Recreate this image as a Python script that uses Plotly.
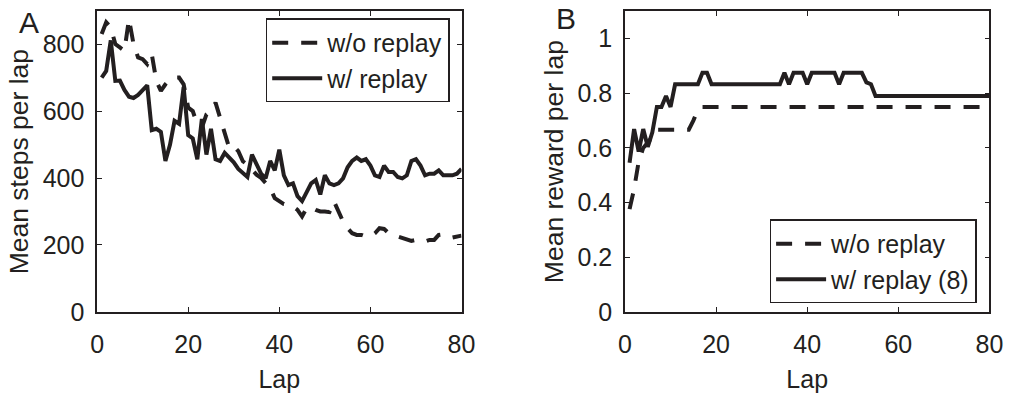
import plotly.graph_objects as go

laps = list(range(1, 81))

steps_wo = [830, 865, 850, 800, 790, 780, 875, 800, 760, 755,
            740, 770, 690, 660, 680, 695, 700, 700, 680, 610,
            600, 560, 550, 590, 600, 625, 580, 530, 490, 495,
            480, 450, 440, 425, 410, 400, 385, 370, 340, 330,
            322, 320, 315, 305, 285, 310, 312, 305, 300, 300,
            298, 330, 300, 270, 250, 235, 230, 230, 225, 225,
            235, 250, 248, 235, 230, 225, 220, 215, 212, 215,
            210, 210, 215, 215, 230, 232, 225, 222, 225, 228]

steps_w = [700, 720, 811, 690, 691, 663, 643, 639, 648, 663,
           677, 543, 547, 538, 451, 499, 571, 562, 672, 528,
           518, 456, 576, 470, 547, 456, 451, 475, 461, 447,
           427, 413, 403, 470, 442, 413, 399, 451, 423, 485,
           408, 379, 384, 346, 331, 355, 384, 394, 351, 408,
           384, 379, 384, 399, 432, 451, 461, 451, 456, 437,
           408, 403, 437, 418, 418, 403, 399, 408, 451, 456,
           437, 408, 413, 413, 423, 408, 408, 408, 413, 427]

reward_wo = [0.376, 0.45, 0.55, 0.60, 0.62, 0.64, 0.667, 0.667, 0.667, 0.667,
             0.667, 0.667, 0.667, 0.667, 0.70, 0.74] + [0.75] * 64

reward_w = ([0.546, 0.669, 0.587, 0.669, 0.604, 0.657, 0.75, 0.75, 0.79, 0.75]
            + [0.833] * 6 + [0.875, 0.875] + [0.833] * 16
            + [0.875, 0.833, 0.875, 0.875, 0.875, 0.833]
            + [0.875] * 6 + [0.833] + [0.875] * 5
            + [0.84, 0.833, 0.79] + [0.79] * 25)

INK = "#231f20"
FONT = "Liberation Sans, Arial, Helvetica, sans-serif"
DASH = "16px,13px"
LW = 4

fig = go.Figure()
fig.add_trace(go.Scatter(x=laps, y=steps_wo, mode="lines", name="w/o replay",
                         line=dict(color=INK, width=LW, dash=DASH),
                         xaxis="x", yaxis="y", legend="legend"))
fig.add_trace(go.Scatter(x=laps, y=steps_w, mode="lines", name="w/ replay",
                         line=dict(color=INK, width=LW),
                         xaxis="x", yaxis="y", legend="legend"))
fig.add_trace(go.Scatter(x=laps, y=reward_wo, mode="lines", name="w/o replay",
                         line=dict(color=INK, width=LW, dash=DASH),
                         xaxis="x2", yaxis="y2", legend="legend2"))
fig.add_trace(go.Scatter(x=laps, y=reward_w, mode="lines", name="w/ replay (8)",
                         line=dict(color=INK, width=LW),
                         xaxis="x2", yaxis="y2", legend="legend2"))

ax_common = dict(showline=True, linecolor=INK, linewidth=1.5, mirror="ticks",
                 ticks="inside", ticklen=5, tickcolor=INK, tickwidth=1,
                 showgrid=False, zeroline=False,
                 tickfont=dict(family=FONT, size=25, color=INK))

xtitle_font = dict(family=FONT, size=25, color=INK)
ytitle_font = dict(family=FONT, size=26.5, color=INK)

yd = [0.1856, 0.9705]
leg_common = dict(bordercolor=INK, borderwidth=1.5, bgcolor="white",
                  font=dict(family=FONT, size=25, color=INK), tracegroupgap=0,
                  itemwidth=50)
fig.update_layout(
    width=1021, height=397,
    margin=dict(l=0, r=0, t=0, b=0),
    paper_bgcolor="white", plot_bgcolor="white",
    font=dict(family=FONT, color=INK),
    xaxis=dict(domain=[0.0901, 0.4545], range=[0, 80], tickvals=[0, 20, 40, 60, 80],
               anchor="y", ticklabelstandoff=9,
               title=dict(text="Lap", standoff=14, font=xtitle_font), **ax_common),
    yaxis=dict(domain=yd, range=[0, 898], tickvals=[0, 200, 400, 600, 800],
               anchor="x", ticklabelstandoff=6,
               title=dict(text="Mean steps per lap", standoff=6, font=ytitle_font), **ax_common),
    xaxis2=dict(domain=[0.618, 0.9824], range=[0, 80], tickvals=[0, 20, 40, 60, 80],
                anchor="y2", ticklabelstandoff=9,
                title=dict(text="Lap", standoff=14, font=xtitle_font), **ax_common),
    yaxis2=dict(domain=yd, range=[0, 1.1], tickvals=[0, 0.2, 0.4, 0.6, 0.8, 1],
                anchor="x2", ticklabelstandoff=6,
                title=dict(text="Mean reward per lap", standoff=6, font=ytitle_font), **ax_common),
    legend=dict(x=0.4427, y=0.952, xanchor="right", yanchor="top", **leg_common),
    legend2=dict(x=0.9696, y=0.2078, xanchor="right", yanchor="bottom", **leg_common),
    showlegend=True,
    annotations=[
        dict(text="A", x=0.0, y=0.94, xref="paper", yref="paper", xanchor="left",
             yanchor="middle", showarrow=False, xshift=10,
             font=dict(family=FONT, size=30, color=INK)),
        dict(text="B", x=0.5465, y=0.953, xref="paper", yref="paper", xanchor="left",
             yanchor="middle", showarrow=False,
             font=dict(family=FONT, size=30, color=INK)),
    ],
)

fig.write_html("out.html")
